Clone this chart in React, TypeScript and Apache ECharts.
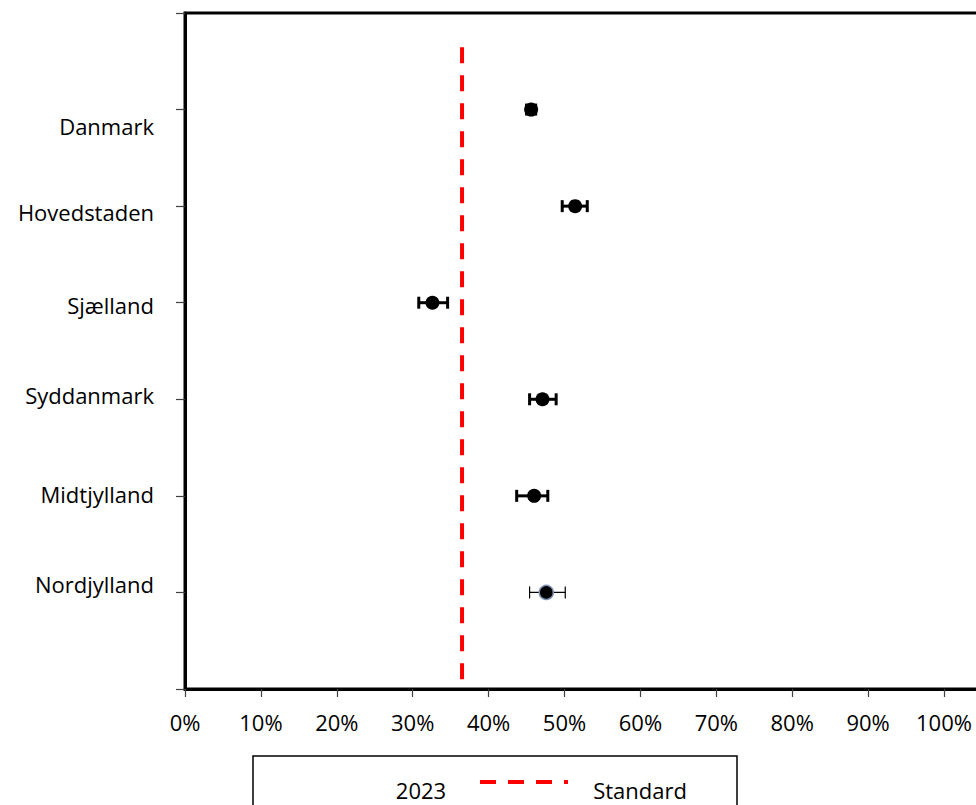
import React, { useEffect, useRef } from "react";
import * as echarts from "echarts";

const regions = ["Danmark", "Hovedstaden", "Sjælland", "Syddanmark", "Midtjylland", "Nordjylland"];
const values2023 = [0.456, 0.514, 0.326, 0.471, 0.46, 0.476];
const lower95 = [0.45, 0.497, 0.308, 0.454, 0.437, 0.454];
const upper95 = [0.462, 0.53, 0.346, 0.489, 0.478, 0.501];
const standardValue = 0.365;
const standardSpan = [0.1, 6.67];
const seriesName = "2023";
const standardName = "Standard";

// styles (not data)
const labelShift = [16, 6, 2, -4, -2, -8];
const errWidths = [3, 3, 3, 3, 3, 1.2];
const FONT = "'Open Sans', sans-serif";
const FS = 22;

export default function App() {
  const ref = useRef<HTMLDivElement>(null);
  useEffect(() => {
    document.body.style.margin = "0";
    const chart = echarts.init(ref.current!, null, { renderer: "svg" });
    const n = regions.length;
    const yOf = (i: number) => n - i;
    const rich: any = {};
    regions.forEach((r, i) => {
      const s = labelShift[i];
      rich["r" + i] = {
        fontSize: FS,
        fontFamily: FONT,
        color: "#000",
        padding: s >= 0 ? [2 * s, 0, 0, 0] : [0, 0, -2 * s, 0],
      };
    });
    const option: any = {
      animation: false,
      backgroundColor: "#fff",
      grid: {
        left: 185,
        top: 13,
        width: 759 * 1.1,
        height: 676,
        outerBoundsMode: "none",
        containLabel: false,
        show: true,
        borderColor: "#000",
        borderWidth: 3,
        backgroundColor: "transparent",
      },
      xAxis: {
        type: "value",
        min: 0,
        max: 1.1,
        interval: 0.1,
        splitLine: { show: false },
        axisLine: { show: true, lineStyle: { color: "#000", width: 3 } },
        axisTick: { show: true, length: 8, lineStyle: { color: "#404040", width: 1.2 } },
        axisLabel: {
          fontSize: FS,
          fontFamily: FONT,
          color: "#000",
          margin: 22,
          formatter: (v: number) => (v > 1.0001 ? "" : Math.round(v * 100) + "%"),
        },
      },
      yAxis: {
        type: "value",
        min: 0,
        max: n + 1,
        interval: 1,
        splitLine: { show: false },
        axisLine: { show: true, lineStyle: { color: "#000", width: 3 } },
        axisTick: { show: true, length: 9, lineStyle: { color: "#404040", width: 1.2 } },
        axisLabel: {
          margin: 31,
          rich,
          formatter: (v: number) => {
            const i = n - Math.round(v);
            if (i < 0 || i >= n || Math.round(v) === 0) return "";
            return "{r" + i + "|" + regions[i] + "}";
          },
        },
      },
      series: [
        {
          type: "custom",
          name: seriesName + " CI",
          z: 3,
          data: regions.map((_, i) => [values2023[i], yOf(i), lower95[i], upper95[i]]),
          encode: { x: 0, y: 1 },
          renderItem: (params: any, api: any) => {
            const y = api.value(1);
            const lo = api.coord([api.value(2), y]);
            const hi = api.coord([api.value(3), y]);
            const w = errWidths[params.dataIndex];
            const cap = 6;
            const st = { stroke: "#000", lineWidth: w };
            return {
              type: "group",
              children: [
                { type: "line", shape: { x1: lo[0], y1: lo[1], x2: hi[0], y2: hi[1] }, style: st },
                { type: "line", shape: { x1: lo[0], y1: lo[1] - cap, x2: lo[0], y2: lo[1] + cap }, style: st },
                { type: "line", shape: { x1: hi[0], y1: hi[1] - cap, x2: hi[0], y2: hi[1] + cap }, style: st },
              ],
            };
          },
        },
        {
          type: "scatter",
          name: seriesName,
          z: 4,
          symbol: "circle",
          symbolSize: 14,
          itemStyle: { opacity: 1 },
          data: regions.map((_, i) => ({
            value: [values2023[i], yOf(i)],
            itemStyle:
              i === n - 1
                ? { color: "#000", borderColor: "#7f93b8", borderWidth: 1.5, opacity: 1 }
                : { color: "#000", borderWidth: 0, opacity: 1 },
          })),
        },
        {
          type: "line",
          name: standardName,
          z: 2,
          symbol: "none",
          data: [
            [standardValue, standardSpan[0]],
            [standardValue, standardSpan[1]],
          ],
          lineStyle: { color: "#ff0000", width: 4, type: [16, 12] },
        },
      ],
      graphic: [
        {
          type: "rect",
          shape: { x: 253, y: 756, width: 484, height: 70 },
          style: { fill: "#fff", stroke: "#000", lineWidth: 1.5 },
        },
        {
          type: "text",
          x: 421,
          y: 790,
          style: {
            text: seriesName,
            fontSize: FS,
            fontFamily: FONT,
            fill: "#000",
            align: "center",
            verticalAlign: "middle",
          },
        },
        {
          type: "line",
          shape: { x1: 480, y1: 782, x2: 568, y2: 782 },
          style: { stroke: "#ff0000", lineWidth: 4, lineDash: [16, 12] },
        },
        {
          type: "text",
          x: 640,
          y: 790,
          style: {
            text: standardName,
            fontSize: FS,
            fontFamily: FONT,
            fill: "#000",
            align: "center",
            verticalAlign: "middle",
          },
        },
      ],
    };
    chart.setOption(option);
    return () => chart.dispose();
  }, []);
  return <div ref={ref} style={{ width: 976, height: 805 }} />;
}
